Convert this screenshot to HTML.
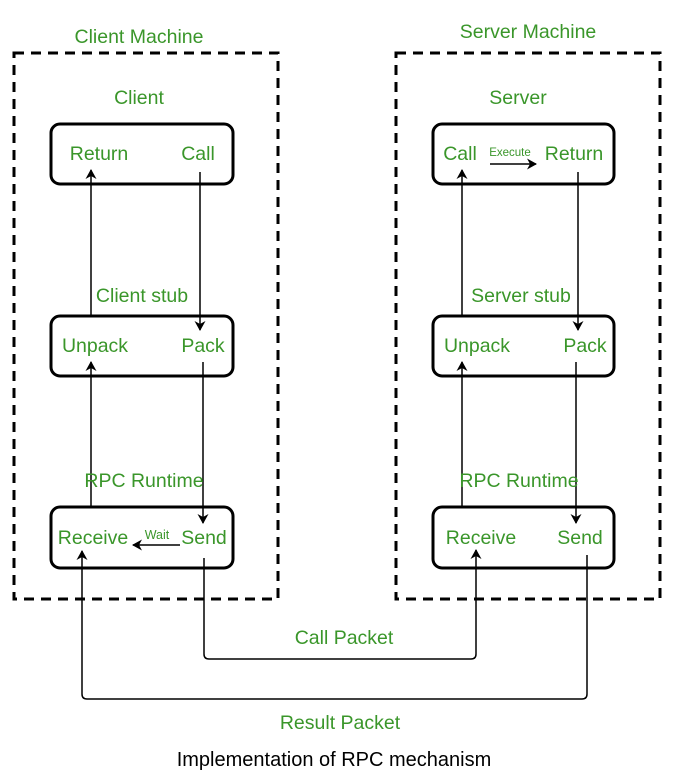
<!DOCTYPE html>
<html><head><style>body{margin:0;background:#fff}svg{display:block}</style></head><body>
<svg width="680" height="777" xmlns="http://www.w3.org/2000/svg" font-family="Liberation Sans, sans-serif">
<defs><marker id="a" markerWidth="12" markerHeight="12" refX="9" refY="5.5" orient="auto" markerUnits="userSpaceOnUse"><path d="M0,0 L10,5.5 L0,11 L3,5.5 Z" fill="#000"/></marker></defs>
<g fill="none" stroke="#000" stroke-width="3" stroke-dasharray="10,7">
<rect x="14" y="53" width="264" height="546"/>
<rect x="396" y="53" width="264" height="546"/>
</g>
<g fill="none" stroke="#000" stroke-width="3">
<rect x="51" y="124" width="182" height="60" rx="9"/>
<rect x="51" y="316" width="182" height="60" rx="9"/>
<rect x="51" y="507" width="182" height="61" rx="9"/>
<rect x="433" y="124" width="181" height="60" rx="9"/>
<rect x="433" y="316" width="181" height="60" rx="9"/>
<rect x="433" y="507" width="181" height="61" rx="9"/>
</g>
<g fill="none" stroke="#000" stroke-width="1.5" marker-end="url(#a)">
<line x1="91" y1="316" x2="91" y2="170"/>
<line x1="200" y1="172" x2="200" y2="330"/>
<line x1="91" y1="508" x2="91" y2="362"/>
<line x1="203" y1="362" x2="203" y2="523"/>
<line x1="180" y1="545" x2="133" y2="545"/>
<line x1="462" y1="316" x2="462" y2="170"/>
<line x1="578" y1="172" x2="578" y2="330"/>
<line x1="462" y1="508" x2="462" y2="362"/>
<line x1="576" y1="362" x2="576" y2="523"/>
<line x1="490" y1="164" x2="536" y2="164"/>
<path d="M204,558 V654 Q204,659 209,659 H471 Q476,659 476,654 V550"/>
<path d="M587,555 V694 Q587,699 582,699 H87 Q82,699 82,694 V551"/>
</g>
<g fill="#3a962a" font-size="19.5" text-anchor="middle">
<text x="139" y="43">Client Machine</text>
<text x="139" y="104">Client</text>
<text x="99" y="160">Return</text>
<text x="198" y="160">Call</text>
<text x="142" y="302">Client stub</text>
<text x="95" y="352">Unpack</text>
<text x="203" y="352">Pack</text>
<text x="144" y="487">RPC Runtime</text>
<text x="93" y="544">Receive</text>
<text x="204" y="544">Send</text>
<text x="157" y="539" font-size="12.5">Wait</text>
<text x="528" y="38">Server Machine</text>
<text x="518" y="104">Server</text>
<text x="460" y="160">Call</text>
<text x="574" y="160">Return</text>
<text x="510" y="156" font-size="11.5">Execute</text>
<text x="521" y="302">Server stub</text>
<text x="477" y="352">Unpack</text>
<text x="585" y="352">Pack</text>
<text x="519" y="487">RPC Runtime</text>
<text x="481" y="544">Receive</text>
<text x="580" y="544">Send</text>
<text x="344" y="644">Call Packet</text>
<text x="340" y="729">Result Packet</text>
</g>
<text x="334" y="766" font-size="20" text-anchor="middle" fill="#000">Implementation of RPC mechanism</text>
</svg>
</body></html>
